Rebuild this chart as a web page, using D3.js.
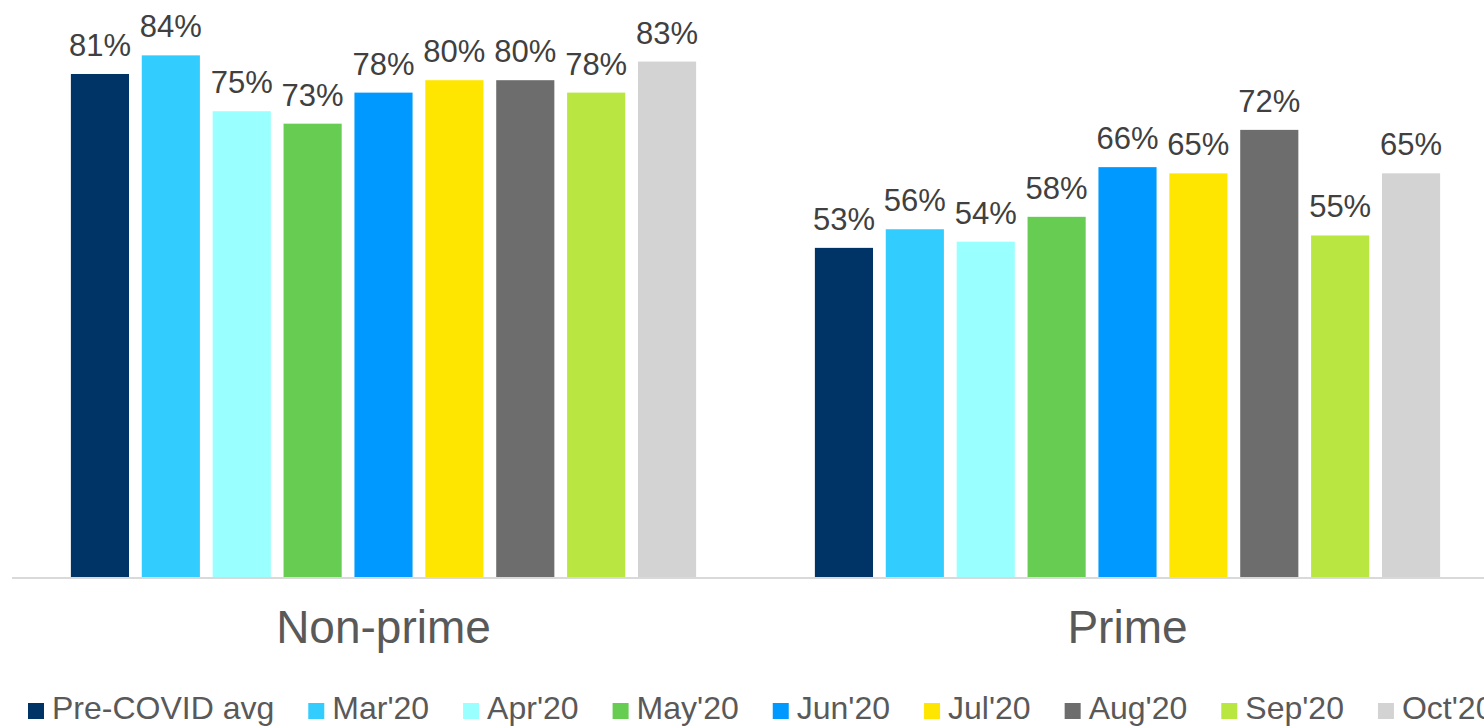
<!DOCTYPE html>
<html>
<head>
<meta charset="utf-8">
<script src="https://cdn.jsdelivr.net/npm/d3@7"></script>
<style>
  html, body { margin: 0; padding: 0; background: #fff; }
  svg { display: block; font-family: "Liberation Sans", Arial, Helvetica, sans-serif; }
</style>
</head>
<body>
<svg id="chart" width="1484" height="728"></svg>
<script>
const groups = ["Non-prime", "Prime"];
const seriesNames = ["Pre-COVID avg", "Mar'20", "Apr'20", "May'20", "Jun'20", "Jul'20", "Aug'20", "Sep'20", "Oct'20"];
const nonPrimeValues = [81, 84, 75, 73, 78, 80, 80, 78, 83];
const primeValues = [53, 56, 54, 58, 66, 65, 72, 55, 65];
const seriesColors = ["#003466", "#33CCFF", "#99FFFF", "#66CC52", "#0099FF", "#FFE600", "#6D6D6D", "#B9E641", "#D3D3D3"];

const valuesByGroup = { "Non-prime": nonPrimeValues, "Prime": primeValues };

const svg = d3.select("#chart");
const baseY = 577;

const y = d3.scaleLinear().domain([0, 100]).range([baseY, baseY - 621]);
const x0 = d3.scaleBand().domain(groups).range([11.5, 1499.5]).padding(0);
const x1 = d3.scaleBand().domain(seriesNames).range([-319, 319]).paddingInner(0.18).paddingOuter(0.09);
const color = d3.scaleOrdinal().domain(seriesNames).range(seriesColors);

const gGroups = svg.append("g").selectAll("g")
  .data(groups).join("g")
  .attr("transform", d => `translate(${x0(d) + x0.bandwidth() / 2},0)`);

const bars = gGroups.selectAll("g.bar")
  .data(g => seriesNames.map((s, i) => ({ group: g, series: s, value: valuesByGroup[g][i] })))
  .join("g").attr("class", "bar");

bars.append("rect")
  .attr("x", d => x1(d.series))
  .attr("width", x1.bandwidth())
  .attr("y", d => y(d.value))
  .attr("height", d => baseY - y(d.value))
  .attr("fill", d => color(d.series));

bars.append("text")
  .attr("x", d => x1(d.series) + x1.bandwidth() / 2)
  .attr("y", d => y(d.value) - 18)
  .attr("text-anchor", "middle")
  .attr("font-size", 31)
  .attr("fill", "#404040")
  .text(d => d.value + "%");

// x axis
const axis = svg.append("g")
  .attr("transform", `translate(0,${baseY + 1})`)
  .call(d3.axisBottom(x0).tickSize(0).tickSizeOuter(0).tickPadding(32));
axis.select(".domain").attr("stroke", "#D9D9D9").attr("stroke-width", 2).attr("d", "M12,0H1484");
axis.selectAll("text")
  .attr("font-size", 46)
  .attr("font-family", "\"Liberation Sans\", Arial, sans-serif")
  .attr("fill", "#595959");

// legend
const legend = svg.append("g").attr("transform", "translate(28,0)");
let lx = 0;
seriesNames.forEach((s, i) => {
  const item = legend.append("g").attr("transform", `translate(${lx},0)`);
  item.append("rect").attr("x", 0).attr("y", 703).attr("width", 16).attr("height", 16).attr("fill", color(s));
  const t = item.append("text").attr("x", 24).attr("y", 719)
    .attr("font-size", 32).attr("fill", "#595959").text(s);
  lx += 24 + t.node().getComputedTextLength() + 34;
});
</script>
</body>
</html>
